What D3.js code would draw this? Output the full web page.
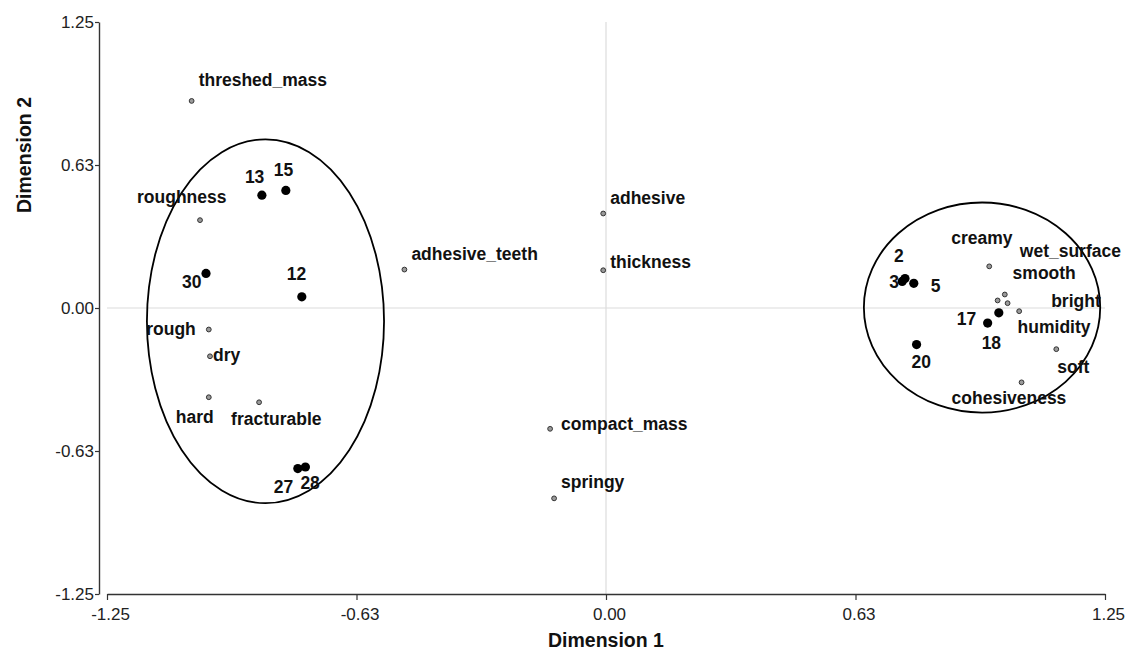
<!DOCTYPE html>
<html>
<head>
<meta charset="utf-8">
<script src="https://cdn.jsdelivr.net/npm/d3@7/dist/d3.min.js"></script>
<style>
  body { margin: 0; background: #fff; }
  svg { display: block; font-family: "Liberation Sans", Arial, sans-serif; }
  .tick text { font-size: 17px; fill: #222; }
  .lbl { font-size: 17.5px; font-weight: bold; fill: #111; }
  .title { font-size: 19.5px; font-weight: bold; fill: #111; }
</style>
</head>
<body>
<div id="chart"></div>
<script>
// attribute (variable) coordinates
const varNames = ['threshed_mass', 'roughness', 'rough', 'dry', 'hard', 'fracturable',
  'adhesive_teeth', 'adhesive', 'thickness', 'compact_mass', 'springy',
  'creamy', 'wet_surface', 'smooth', 'humidity', 'bright', 'soft', 'cohesiveness'];
const varX = [-1.038, -1.017, -0.995, -0.992, -0.995, -0.869,
  -0.505, -0.007, -0.007, -0.140, -0.130,
  0.960, 0.999, 0.981, 1.006, 1.035, 1.128, 1.041];
const varY = [0.905, 0.384, -0.094, -0.211, -0.390, -0.412,
  0.168, 0.413, 0.165, -0.528, -0.832,
  0.182, 0.059, 0.033, 0.021, -0.014, -0.180, -0.325];

// sample coordinates
const sampleNames = ['13', '15', '30', '12', '27', '28', '2', '3', '5', '17', '18', '20'];
const sampleX = [-0.862, -0.802, -1.002, -0.762, -0.772, -0.753, 0.749, 0.742, 0.771, 0.984, 0.956, 0.778];
const sampleY = [0.493, 0.514, 0.151, 0.049, -0.702, -0.695, 0.129, 0.116, 0.108, -0.021, -0.066, -0.160];

// group ellipses (centre and radii in data units)
const groupCx = [-0.853, 0.942];
const groupCy = [-0.058, 0.002];
const groupRx = [0.297, 0.296];
const groupRy = [0.795, 0.459];

const tickValues = [-1.25, -0.625, 0, 0.625, 1.25];
const tickLabels = ['-1.25', '-0.63', '0.00', '0.63', '1.25'];

// label placement relative to the point: [dx, dy, anchor]
const labelPos = {
  threshed_mass: [7, -15], roughness: [-63, -17], rough: [-13, 5, 'end'], dry: [3, 5],
  hard: [-33, 26], fracturable: [-28, 23], adhesive_teeth: [7, -10], adhesive: [7, -10],
  thickness: [7, -2], compact_mass: [11, 1], springy: [7, -10], creamy: [-38, -22],
  wet_surface: [15, -38], smooth: [15, -21], humidity: [10, 30], bright: [32, -4],
  soft: [1, 24], cohesiveness: [-70, 22],
  '13': [-17, -12], '15': [-12, -14], '30': [-24, 15], '12': [-15, -17],
  '27': [-24, 24], '28': [-5, 22], '2': [-11, -16], '3': [-13, 7], '5': [17, 9],
  '17': [-42, 12], '18': [-6, 26], '20': [-5, 23]
};

const width = 1128, height = 656;
const svg = d3.select('#chart').append('svg')
  .attr('width', width)
  .attr('height', height);

const x = d3.scaleLinear().domain([-1.25, 1.25]).range([107, 1105]);
const y = d3.scaleLinear().domain([-1.25, 1.25]).range([594, 22]);

// zero reference lines
svg.append('line')
  .attr('x1', x(0)).attr('x2', x(0))
  .attr('y1', y(1.25)).attr('y2', y(-1.25))
  .attr('stroke', '#dcdcdc').attr('stroke-width', 1.2);
svg.append('line')
  .attr('x1', x(-1.25)).attr('x2', x(1.25))
  .attr('y1', y(0)).attr('y2', y(0))
  .attr('stroke', '#dcdcdc').attr('stroke-width', 1.2);

// axes
const fmt = (d, i) => tickLabels[i];
const xAxis = svg.append('g')
  .attr('transform', `translate(0,${y(-1.25)})`)
  .call(d3.axisBottom(x).tickValues(tickValues).tickFormat(fmt).tickSize(6).tickSizeOuter(0).tickPadding(8));
const yAxis = svg.append('g')
  .attr('transform', 'translate(99,0)')
  .call(d3.axisLeft(y).tickValues(tickValues).tickFormat(fmt).tickSize(4).tickSizeOuter(0).tickPadding(1));
[xAxis, yAxis].forEach(g => {
  g.select('.domain').attr('stroke', '#333').attr('stroke-width', 1.4);
  g.selectAll('.tick line').attr('stroke', '#333').attr('stroke-width', 1.2);
  g.selectAll('.tick text').attr('font-family', null).attr('font-size', null);
});
xAxis.selectAll('.tick text').attr('dx', 3);

// axis titles
svg.append('text')
  .attr('class', 'title')
  .attr('x', x(0)).attr('y', 647)
  .attr('text-anchor', 'middle')
  .text('Dimension 1');
svg.append('text')
  .attr('class', 'title')
  .attr('transform', 'translate(31,155) rotate(-90)')
  .attr('text-anchor', 'middle')
  .text('Dimension 2');

// ellipses
svg.selectAll('.group')
  .data(groupCx)
  .enter()
  .append('ellipse')
  .attr('class', 'group')
  .attr('cx', d => x(d))
  .attr('cy', (d, i) => y(groupCy[i]))
  .attr('rx', (d, i) => x(d + groupRx[i]) - x(d))
  .attr('ry', (d, i) => y(groupCy[i]) - y(groupCy[i] + groupRy[i]))
  .attr('fill', 'none')
  .attr('stroke', '#000')
  .attr('stroke-width', 1.8);

// variable points
svg.selectAll('.var')
  .data(varNames)
  .enter()
  .append('circle')
  .attr('class', 'var')
  .attr('cx', (d, i) => x(varX[i]))
  .attr('cy', (d, i) => y(varY[i]))
  .attr('r', 2.4)
  .attr('fill', '#9a9a9a')
  .attr('stroke', '#333')
  .attr('stroke-width', 1);

// sample points
svg.selectAll('.sample')
  .data(sampleNames)
  .enter()
  .append('circle')
  .attr('class', 'sample')
  .attr('cx', (d, i) => x(sampleX[i]))
  .attr('cy', (d, i) => y(sampleY[i]))
  .attr('r', 4.6)
  .attr('fill', '#000');

// labels
const allLabels = varNames.map((n, i) => ({ name: n, vx: varX[i], vy: varY[i] }))
  .concat(sampleNames.map((n, i) => ({ name: n, vx: sampleX[i], vy: sampleY[i] })));
svg.selectAll('.lbl')
  .data(allLabels)
  .enter()
  .append('text')
  .attr('class', 'lbl')
  .attr('x', d => x(d.vx) + labelPos[d.name][0])
  .attr('y', d => y(d.vy) + labelPos[d.name][1])
  .attr('text-anchor', d => labelPos[d.name][2] || 'start')
  .text(d => d.name);
</script>
</body>
</html>
